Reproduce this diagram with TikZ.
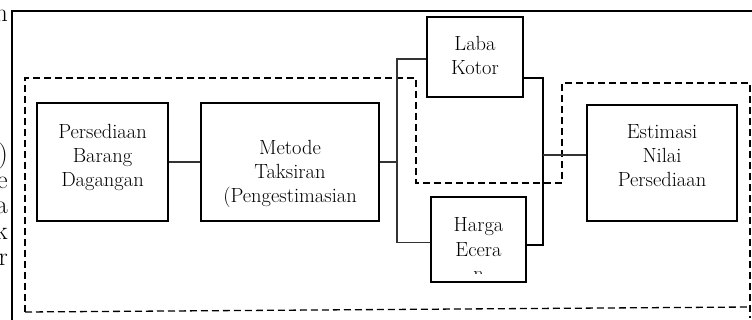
\documentclass[tikz,border=0pt]{standalone}
\usepackage{fontspec}
\tikzstyle{box}=[draw, rectangle, line width=1.2, inner sep=0]
\tikzstyle{txt}=[align=center, font=\fontsize{20.5}{24}\selectfont, inner sep=0]
\tikzstyle{line}=[line width=1.2, draw=black!80]
\tikzstyle{bus}=[line width=2]
\tikzstyle{dashframe}=[dash pattern=on 7pt off 4pt, line width=1.3]
\tikzstyle{stray}=[font=\fontsize{26}{30}\selectfont, anchor=base east, inner sep=0]
\begin{document}
\begin{tikzpicture}[x=1pt, y=-1pt]
      \useasboundingbox (0,0) rectangle (752,320);
      \clip (0,0) rectangle (752,320);
      \draw[line width=1.5] (12,325) -- (12,11) -- (760,11);
      \draw[dashframe] (25,312) -- (25,78) -- (416,78) -- (416,183) -- (562,183) -- (562,83) -- (750,83) -- (750,318);
      \draw[dashframe] (25,312) -- (750,307);

      \node[stray] (s1) at (8,22)  {n};
      \node[stray] (s2) at (8,163) {)};
      \node[stray] (s3) at (8,189) {e};
      \node[stray] (s4) at (8,214) {a};
      \node[stray] (s5) at (8,240) {k};
      \node[stray] (s6) at (8,266) {r};

      \node[box, minimum width=131pt, minimum height=118pt] (persediaan) at (102.5,162) {};
      \node[txt, yshift=5pt] (persediaan-t) at (persediaan) {Persediaan\\Barang\\Dagangan};
      \node[box, minimum width=178pt, minimum height=118pt] (metode) at (290,162) {};
      \node[txt, yshift=-11.5pt] (metode-t) at (metode) {Metode\\Taksiran\\(Pengestimasian};
      \node[box, minimum width=96pt, minimum height=80pt] (laba) at (475,57) {};
      \node[txt, yshift=2pt] (laba-t) at (laba) {Laba\\Kotor};
      \node[box, minimum width=95pt, minimum height=85pt] (harga) at (478.5,239.5) {};
      \begin{scope}
        \clip (harga.north west) rectangle ([yshift=9pt]harga.south east);
        \node[txt, yshift=-9.5pt] (harga-t) at (harga) {Harga\\Ecera\\n};
      \end{scope}
      \node[box, minimum width=150pt, minimum height=116pt] (estimasi) at (662,163) {};
      \node[txt, yshift=7pt] (estimasi-t) at (estimasi) {Estimasi\\Nilai\\Persediaan};

      \coordinate (busL) at (397,162);
      \coordinate (busR) at (543,155);
      \draw[line] (persediaan) -- (metode);
      \draw[line] (metode.east) -- (busL);
      \draw[line] ([yshift=-2pt]laba.west) -| (busL) |- ([yshift=-3pt]harga.west);
      \draw[bus] ([yshift=-21pt]laba.east) -| (busR) |- ([yshift=-5.5pt]harga.east);
      \draw[line] (busR) -- (busR -| estimasi.west);
\end{tikzpicture}
\end{document}
